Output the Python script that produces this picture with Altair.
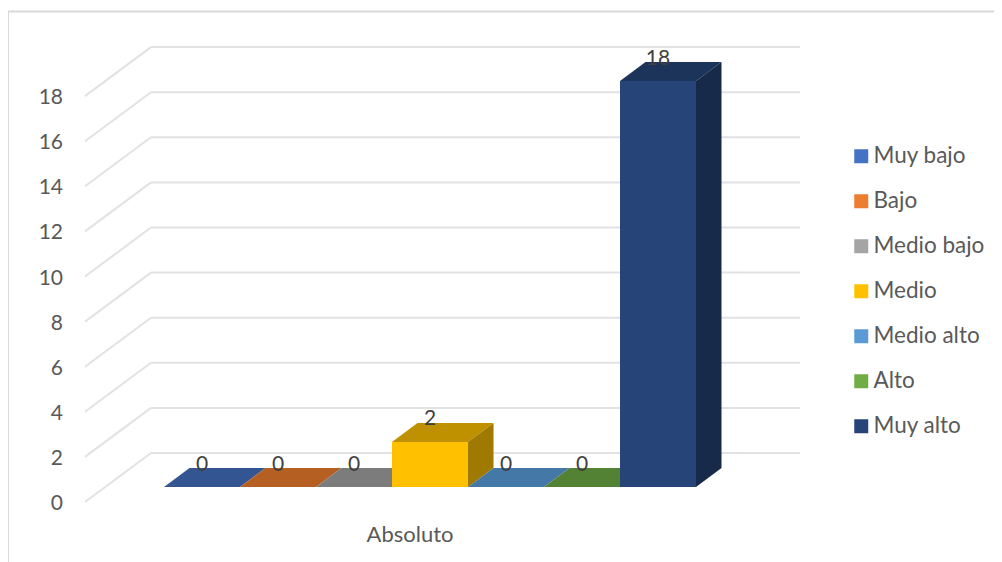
import altair as alt
import pandas as pd

categories = ["Muy bajo", "Bajo", "Medio bajo", "Medio", "Medio alto", "Alto", "Muy alto"]
values = [0, 0, 0, 2, 0, 0, 18]
front_colors = ["#4472C4", "#ED7D31", "#A5A5A5", "#FFC000", "#5B9BD5", "#70AD47", "#264478"]
top_colors = ["#335693", "#B55F22", "#7C7C7C", "#BF9000", "#4478A6", "#548235", "#1C335A"]
side_colors = ["#29457A", "#94501F", "#676767", "#A07900", "#395F82", "#466C2C", "#172A4A"]
tick_values = [0, 2, 4, 6, 8, 10, 12, 14, 16, 18]
category_label = "Absoluto"

W, H = 986, 554
UX, UY = 76.0, 22.55          # pixels per category slot / per value unit
X0, Y0 = 164.0 - 8, 487.0 - 8  # where the first bar's base sits in the view
DX, DY = 25.5 / UX, 19.0 / UY  # bar depth
WALL_FRONT_X, WALL_BACK_X, WALL_RIGHT_X = (85 - 164) / UX, (151 - 164) / UX, (800 - 164) / UX
WALL_FRONT_Y, WALL_BACK_Y = (487 - 502) / UY, (487 - 453) / UY

x_scale = alt.Scale(domain=[-X0 / UX, (W - X0) / UX], range=[0, W], nice=False, zero=False)
y_scale = alt.Scale(domain=[(Y0 - H) / UY, Y0 / UY], range=[H, 0], nice=False, zero=False)
X = lambda f="x": alt.X(f"{f}:Q", scale=x_scale, axis=None)
Y = lambda f="y": alt.Y(f"{f}:Q", scale=y_scale, axis=None)

font = "Lato"
ink = "#595959"

# walls
wall_rows = []
for t in tick_values:
    wall_rows.append(dict(x=WALL_FRONT_X, x2=WALL_BACK_X, y=t + WALL_FRONT_Y, y2=t + WALL_BACK_Y))
    wall_rows.append(dict(x=WALL_BACK_X, x2=WALL_RIGHT_X, y=t + WALL_BACK_Y, y2=t + WALL_BACK_Y))
walls = alt.Chart(pd.DataFrame(wall_rows)).mark_rule(color="#E2E2E2", strokeWidth=2).encode(
    x=X(), x2="x2:Q", y=Y(), y2="y2:Q")

# bars
fronts, faces = [], []
for i, (cat, v) in enumerate(zip(categories, values)):
    fronts += [dict(cat=cat, order=i, x=i, y=0, y2=v), dict(cat=cat, order=i, x=i + 1, y=0, y2=v)]
    faces += [
        dict(face=f"t{i}", c=top_colors[i], x=i, y=v, y2=v),
        dict(face=f"t{i}", c=top_colors[i], x=i + DX, y=v, y2=v + DY),
        dict(face=f"t{i}", c=top_colors[i], x=i + 1, y=v, y2=v + DY),
        dict(face=f"t{i}", c=top_colors[i], x=i + 1 + DX, y=v + DY, y2=v + DY),
    ]
    if v > 0:
        faces += [
            dict(face=f"s{i}", c=side_colors[i], x=i + 1, y=0, y2=v),
            dict(face=f"s{i}", c=side_colors[i], x=i + 1 + DX, y=DY, y2=v + DY),
        ]

face_layer = alt.Chart(pd.DataFrame(faces)).mark_area(orient="vertical", opacity=1).encode(
    x=X(), y=Y(), y2="y2:Q", detail="face:N", color=alt.Color("c:N", scale=None))

front_layer = alt.Chart(pd.DataFrame(fronts)).mark_area(orient="vertical", opacity=1).encode(
    x=X(), y=Y(), y2="y2:Q",
    color=alt.Color("cat:N", scale=alt.Scale(domain=categories, range=front_colors),
                    legend=alt.Legend(title=None, orient="none", legendX=842, legendY=137,
                                      symbolType="square", symbolSize=196, symbolOpacity=1,
                                      symbolStrokeWidth=0, labelFont=font, labelFontSize=22.5,
                                      labelColor=ink, rowPadding=22, labelOffset=1, labelLimit=200)))

# labels
LABEL_UP = 22.5 / UY
labels = pd.DataFrame(dict(x=[i + 0.5 for i in range(len(values))],
                           y=[v + LABEL_UP for v in values],
                           t=[str(v) for v in values]))
label_layer = alt.Chart(labels).mark_text(font=font, fontSize=21, color="#404040", baseline="middle").encode(
    x=X(), y=Y(), text="t:N")

ticks = pd.DataFrame(dict(x=[(63 - 164) / UX] * len(tick_values),
                          y=[t + WALL_FRONT_Y - 2 / UY for t in tick_values],
                          t=[str(t) for t in tick_values]))
tick_layer = alt.Chart(ticks).mark_text(font=font, fontSize=21, color=ink, align="right", baseline="middle").encode(
    x=X(), y=Y(), text="t:N")

cat_df = pd.DataFrame(dict(x=[(410 - 164) / UX], y=[(487 - 535) / UY], t=[category_label]))
cat_layer = alt.Chart(cat_df).mark_text(font=font, fontSize=22, color=ink, baseline="middle").encode(
    x=X(), y=Y(), text="t:N")

# chart frame
frame_left = alt.Chart(pd.DataFrame({"a": [0]})).mark_rule(color="#D9D9D9", strokeWidth=2).encode(
    x=alt.value(0), y=alt.value(3), y2=alt.value(H))
frame_top = alt.Chart(pd.DataFrame({"a": [0]})).mark_rule(color="#D9D9D9", strokeWidth=2).encode(
    x=alt.value(0), x2=alt.value(W), y=alt.value(3.5))

chart = alt.layer(frame_left, frame_top, walls, face_layer, front_layer, label_layer, tick_layer, cat_layer).properties(
    width=W, height=H, padding=0, autosize=alt.AutoSizeParams(type="none")
).configure_view(stroke=None)

chart.save("out.html", embed_options={"renderer": "svg", "actions": False})
